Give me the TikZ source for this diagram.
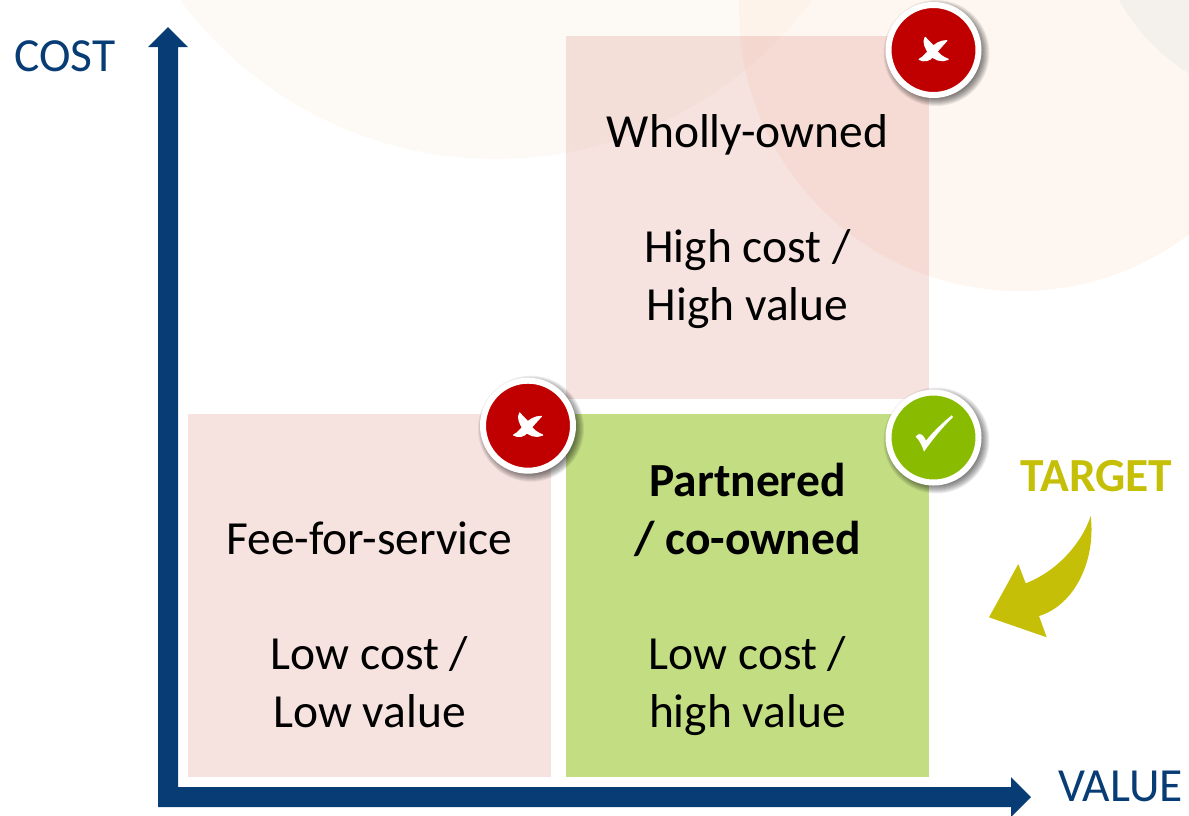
\documentclass[tikz,border=0pt]{standalone}
\usepackage{fontspec}
\setmainfont{Carlito}
\definecolor{navy}{RGB}{8,60,116}
\definecolor{bgone}{RGB}{253,250,246}
\definecolor{bgtwo}{RGB}{253,237,225}
\definecolor{bgthree}{RGB}{244,240,236}
\definecolor{pinkbox}{RGB}{219,139,127}
\definecolor{greenbox}{RGB}{194,221,130}
\definecolor{badred}{RGB}{192,0,0}
\definecolor{goodgreen}{RGB}{137,188,0}
\definecolor{targetgold}{RGB}{197,191,8}
\tikzset{
  quadbox/.style={rectangle,minimum width=363pt,minimum height=363pt,inner sep=0pt,outer sep=0pt},
  pinkquad/.style={quadbox,fill=pinkbox,fill opacity=.25},
  greenquad/.style={quadbox,fill=greenbox},
  label/.style={anchor=base,inner sep=0pt,font=\fontsize{47.5}{57}\selectfont,text=black},
  boldlabel/.style={label,font=\fontsize{47.5}{57}\selectfont\bfseries},
  axislabel/.style={label,text=navy},
  badge/.style={circle,draw=white,line width=6pt,minimum size=90pt,inner sep=0pt,outer sep=0pt},
}
\newcommand{\badgeshadow}[2]{%
  \foreach \r in {45,46,47,48,49,50,51,52,53}{
    \fill[black,opacity=.07] (#1+3,#2+3) circle[radius=\r];
  }%
}
\newcommand{\crossmark}[2]{%
  \begin{scope}[shift={(#1,#2)},x=.3333pt,y=-.3333pt]
    \filldraw[white,line width=1.2pt,line join=round] (-25,-38) .. controls (-33,-25) and (-25,-5) .. (-12,12)
      .. controls (-2,28) and (25,38) .. (44,28)
      .. controls (30,22) and (15,15) .. (2,-8)
      .. controls (-5,-20) and (-15,-25) .. cycle;
    \filldraw[white,line width=1.2pt,line join=round] (40,-28) .. controls (20,-28) and (5,-18) .. (-8,-5)
      .. controls (-20,8) and (-30,22) .. (-43,28)
      .. controls (-30,36) and (-12,33) .. (-2,20)
      .. controls (10,5) and (25,-12) .. cycle;
  \end{scope}%
}
\begin{document}
\begin{tikzpicture}[x=1pt,y=-1pt]
\path[clip] (0,0) rectangle (1189,815);
\useasboundingbox (0,0) rectangle (1189,815);
% background circles
\fill[bgone] (496,-234.5) circle[radius=393.5];
\fill[bgtwo,opacity=.5] (1020,10) circle[radius=281];
\fill[bgthree] (1294,-97) circle[radius=200];
% quadrants
\node[pinkquad] (top) at (747.5,217.5) {};
\node[pinkquad] (left) at (369.5,595.5) {};
\node[greenquad] (right) at (747.5,595.5) {};
% axes
\fill[navy] (168,27) -- (188,47) -- (178,47) -- (178,787) -- (1011,787) -- (1011,777) -- (1031,797)
  -- (1011,817) -- (1011,807) -- (158,807) -- (158,47) -- (148,47) -- cycle;
\node[axislabel] (cost) at (65,71) {COST};
\node[axislabel] (value) at (1120.5,801) {VALUE};
% texts
\node[label] (t1) at (747.5,147) {Wholly-owned};
\node[label] (t2) at (747.5,262) {High cost /};
\node[label] (t3) at (747.5,320) {High value};
\node[label] (t4) at (369.5,554) {Fee-for-service};
\node[label] (t5) at (369.5,669) {Low cost /};
\node[label] (t6) at (369.5,727) {Low value};
\node[boldlabel] (t7) at (747.5,496.5) {Partnered};
\node[boldlabel] (t8) at (747.5,554) {/ co-owned};
\node[label] (t9) at (747.5,669) {Low cost /};
\node[label] (t10) at (747.5,727) {high value};
\node[boldlabel,text=targetgold] (target) at (1096.5,491) {TARGET};
% target arrow
\fill[targetgold] (989,617.3) -- (1018.3,564) -- (1025.7,583.3)
  .. controls (1060,570) and (1083,540) .. (1090.7,516)
  .. controls (1096,560) and (1075,605) .. (1039,616)
  -- (1046.7,637.3) -- cycle;
% badges
\badgeshadow{933.5}{50}
\node[badge,fill=badred] (b1) at (933.5,50) {};
\crossmark{933.5}{50}
\badgeshadow{528}{425.7}
\node[badge,fill=badred] (b2) at (528,425.7) {};
\crossmark{528}{425.7}
\badgeshadow{933.5}{437.5}
\node[badge,fill=goodgreen] (b3) at (933.5,437.5) {};
\begin{scope}[shift={(860,390)},x=.3333pt,y=-.3333pt]
  \fill[white] (167,140) .. controls (175,131) and (183,129) .. (187,135)
    .. controls (191,139) and (195,145) .. (198,152)
    .. controls (222,122) and (250,96) .. (275,76) -- (279,81)
    .. controls (248,112) and (220,145) .. (192,185)
    .. controls (187,168) and (178,150) .. (167,140) -- cycle;
\end{scope}
\end{tikzpicture}
\end{document}
